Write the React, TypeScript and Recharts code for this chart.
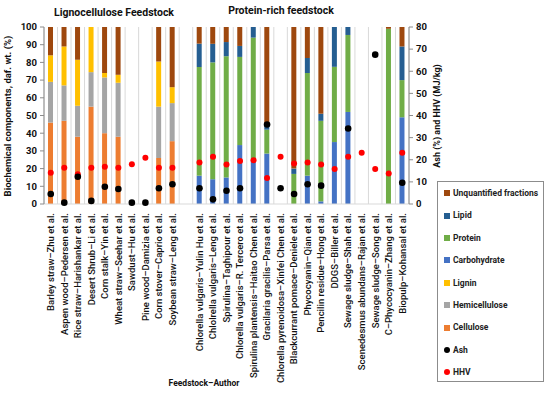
import React from 'react'
import { ComposedChart, Bar, Line, XAxis, YAxis, CartesianGrid } from 'recharts'

const categories = [
  'Barley straw–Zhu et al.', 'Aspen wood–Pedersen et al.', 'Rice straw–Harishankar et al.',
  'Desert Shrub–Li et al.', 'Corn stalk–Yin et al.', 'Wheat straw–Seehar et al.',
  'Sawdust–Hu et al.', 'Pine wood–Damizia et al.', 'Corn stover–Caprio et al.',
  'Soybean straw–Leng et al.', '',
  'Chlorella vulgaris–Yulin Hu et al.', 'Chlolrella vulgaris–Leng et al.', 'Spirulina–Taghipour et al.',
  'Chlorella vulgaris–R. Tercero et al.', 'Spirulina plantensis–Haitao Chen et al.',
  'Gracilaria gracilis–Parsa et al.', 'Chlorella pyrenoidosa–Xinfei Chen et al.',
  'Blackcurrant pomace–Deniele et al.', 'Phycocyanin–Qian et al.', 'Pencilin residue–Hong et al.',
  'DDGS–Biller et al.', 'Sewage sludge–Shah et al.', 'Scenedesmus abundans–Rajan et al.',
  'Sewage sludge–Song et al.', 'C–Phycocyanin–Zhang et al.', 'Biopulp–Kohansal et al.',
]

// biochemical components, daf wt. %
const cellulose = [46, 47, 38, 55, 40, 38, 0, 0, 26, 35.5, 0, 0, 0, 0, 0, 0, 0, 0, 0, 0, 0, 0, 0, 0, 0, 0, 0]
const hemicellulose = [23, 20, 17.5, 19.5, 31.5, 30.5, 0, 0, 29, 21.5, 0, 0, 0, 0, 0, 0, 0, 0, 0, 0, 0, 0, 0, 0, 0, 0, 0]
const lignin = [15, 22, 26, 25.5, 2.5, 4.5, 0, 0, 25.5, 9, 0, 0, 0, 0, 0, 0, 0, 0, 0, 0, 0, 0, 0, 0, 0, 0, 0]
const carbohydrate = [0, 0, 0, 0, 0, 0, 0, 0, 0, 0, 0, 16, 14, 15, 33.3, 24.8, 28.5, 0, 0, 16, 1.5, 35, 52, 0, 0, 0, 49]
const protein = [0, 0, 0, 0, 0, 0, 0, 0, 0, 0, 0, 61.4, 66, 68.5, 49.8, 69.2, 13.5, 0, 17, 58, 45.5, 42.5, 43.5, 0, 0, 99, 21]
const lipid = [0, 0, 0, 0, 0, 0, 0, 0, 0, 0, 0, 13.2, 10.5, 8, 6.2, 6, 2, 0, 3, 8.5, 4, 22.5, 4.5, 0, 0, 0, 19]
const unquantified = [16, 11, 18.5, 0, 26, 27, 0, 0, 19.5, 34, 0, 9.4, 9.5, 8.5, 10.7, 0, 56, 0, 80, 17.5, 49, 0, 0, 0, 0, 1, 11]

// right axis
const ash = [4.5, 0.6, 12.3, 1.4, 7.8, 6.8, 0.6, 0.6, 7.1, 8.9, null, 7.1, 2.1, 6, 7.1, null, 35.9, 7.1, 4.5, 8.9, 8.3, null, 34.1, null, 67.5, null, 9.6]
const hhv = [14.1, 16.4, 13.5, 16.4, 16.8, 16.4, 18, 20.9, 16.4, 16.4, null, 18.8, 21.4, 17.9, 19.4, 19.8, 11.7, 21.4, 18.3, 18.8, 17.9, 15.8, 21.4, 23.2, 15.8, 13.8, 23.2]

const leftTicks = [0, 10, 20, 30, 40, 50, 60, 70, 80, 90, 100]
const rightTicks = [0, 10, 20, 30, 40, 50, 60, 70, 80]

const data = categories.map((name, i) => ({
  name,
  cellulose: cellulose[i],
  hemicellulose: hemicellulose[i],
  lignin: lignin[i],
  carbohydrate: carbohydrate[i],
  protein: protein[i],
  lipid: lipid[i],
  unquantified: unquantified[i],
  ash: ash[i],
  hhv: hhv[i],
}))

const FONT = 'Roboto, "Liberation Sans", Arial, sans-serif'

const legendItems = [
  { label: 'Unquantified fractions', color: '#9E480E', shape: 'square' },
  { label: 'Lipid', color: '#255E91', shape: 'square' },
  { label: 'Protein', color: '#70AD47', shape: 'square' },
  { label: 'Carbohydrate', color: '#4472C4', shape: 'square' },
  { label: 'Lignin', color: '#FFC000', shape: 'square' },
  { label: 'Hemicellulose', color: '#A5A5A5', shape: 'square' },
  { label: 'Cellulose', color: '#ED7D31', shape: 'square' },
  { label: 'Ash', color: '#000000', shape: 'circle' },
  { label: 'HHV', color: '#FF0000', shape: 'circle' },
]

const LegendBox = () => (
  <div style={{
    position: 'absolute', left: 437, top: 181,
    border: '1px solid #8c8c8c', width: 107, height: 201, boxSizing: 'border-box',
    paddingTop: 0, paddingLeft: 6, fontFamily: FONT, fontSize: 8.5, fontWeight: 700, color: '#222',
    whiteSpace: 'nowrap', lineHeight: 1,
  }}>
    {legendItems.map((it) => (
      <div key={it.label} style={{ height: 22.4, display: 'flex', alignItems: 'center' }}>
        <span style={{
          display: 'inline-block', width: 6, height: 6, background: it.color,
          borderRadius: it.shape === 'circle' ? 3 : 0, marginRight: 3,
        }} />
        {it.label}
      </div>
    ))}
  </div>
)

const CategoryTick = ({ x, y, payload }: { x?: number, y?: number, payload?: { value: string } }) => (
  <text
    transform={`translate(${x},${(y ?? 0) + 1}) rotate(-90)`}
    textAnchor="end" dy="0.35em"
    fontSize={9.5} fontWeight={500} fontFamily={FONT} fill="#111"
  >
    {payload?.value}
  </text>
)

const makeDot = (color: string, r: number) => (p: { cx?: number, cy?: number, index?: number, value?: number | null }) => {
  if (p.value == null || p.cy == null || p.cx == null) return <g key={`e${p.index}`} />
  return <circle key={`d${p.index}`} cx={p.cx} cy={p.cy} r={r} fill={color} />
}

export default function App() {
  const tickStyle = { fill: '#111', fontSize: 9.5, fontWeight: 700, fontFamily: FONT }
  return (
    <div style={{ position: 'absolute', left: 0, top: 0, width: 550, height: 393, background: '#fff' }}>
      <ComposedChart
        width={550} height={393} data={data} barSize={5}
        margin={{ top: 27, right: 111, bottom: 9, left: 14 }}
      >
        <CartesianGrid
          horizontal={false} stroke="#d9d9d9"
          verticalCoordinatesGenerator={({ offset }: { offset: { left: number, width: number } }) => {
            const step = offset.width / categories.length
            return Array.from({ length: categories.length + 1 }, (_, i) => offset.left + i * step)
          }}
        />
        <XAxis
          dataKey="name" interval={0} height={180} tickLine={false}
          axisLine={{ stroke: '#d9d9d9' }} tick={<CategoryTick />}
        />
        <YAxis
          yAxisId="left" width={30} domain={[0, 100]} ticks={leftTicks} interval={0}
          tick={tickStyle} tickSize={4} tickMargin={3}
          axisLine={{ stroke: '#8c8c8c' }} tickLine={{ stroke: '#8c8c8c' }}
        />
        <YAxis
          yAxisId="right" orientation="right" width={30} domain={[0, 80]} ticks={rightTicks} interval={0}
          tick={tickStyle} tickSize={4} tickMargin={3}
          axisLine={{ stroke: '#8c8c8c' }} tickLine={{ stroke: '#8c8c8c' }}
        />
        <Bar yAxisId="left" dataKey="cellulose" stackId="a" fill="#ED7D31" isAnimationActive={false} />
        <Bar yAxisId="left" dataKey="hemicellulose" stackId="a" fill="#A5A5A5" isAnimationActive={false} />
        <Bar yAxisId="left" dataKey="lignin" stackId="a" fill="#FFC000" isAnimationActive={false} />
        <Bar yAxisId="left" dataKey="carbohydrate" stackId="a" fill="#4472C4" isAnimationActive={false} />
        <Bar yAxisId="left" dataKey="protein" stackId="a" fill="#70AD47" isAnimationActive={false} />
        <Bar yAxisId="left" dataKey="lipid" stackId="a" fill="#255E91" isAnimationActive={false} />
        <Bar yAxisId="left" dataKey="unquantified" stackId="a" fill="#9E480E" isAnimationActive={false} />
        <Line yAxisId="right" dataKey="hhv" stroke="none" dot={makeDot('#FF0000', 3)} activeDot={false} isAnimationActive={false} />
        <Line yAxisId="right" dataKey="ash" stroke="none" dot={makeDot('#000000', 3.3)} activeDot={false} isAnimationActive={false} />
      </ComposedChart>
      <LegendBox />
      <svg width={550} height={393} style={{ position: 'absolute', left: 0, top: 0, pointerEvents: 'none' }}>
        <g fontFamily={FONT} fontWeight={700} fill="#111">
          <text x={114} y={16} fontSize={10.5} textAnchor="middle">Lignocellulose Feedstock</text>
          <text x={281} y={14} fontSize={10.5} textAnchor="middle">Protein-rich feedstock</text>
          <text x={204} y={386} fontSize={8.5} textAnchor="middle">Feedstock–Author</text>
          <text transform="translate(8,116) rotate(-90)" fontSize={9.5} textAnchor="middle" dy="0.35em">
            Biochemical components, daf. wt. (%)
          </text>
          <text transform="translate(437,116) rotate(-90)" fontSize={9} textAnchor="middle" dy="0.35em">
            Ash (%) and HHV (MJ/kg)
          </text>
        </g>
      </svg>
    </div>
  )
}
